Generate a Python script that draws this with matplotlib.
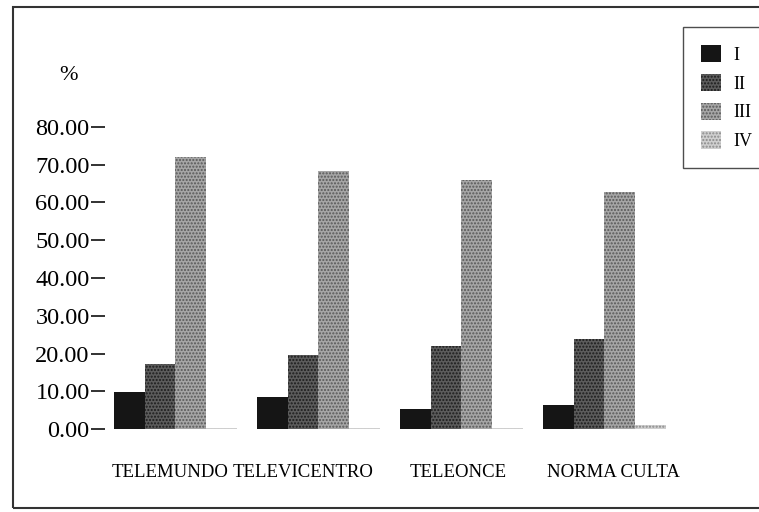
import numpy as np
import matplotlib
matplotlib.use('Agg')
import matplotlib.pyplot as plt
import matplotlib.transforms as mtransforms
from matplotlib.patches import Rectangle

''' data read off the chart '''
canales = ['TELEMUNDO', 'TELEVICENTRO', 'TELEONCE', 'NORMA CULTA']
series = ['I', 'II', 'III', 'IV']
val_I = [9.8, 8.5, 5.3, 6.4]
val_II = [17.2, 19.5, 22.0, 23.8]
val_III = [72.0, 68.3, 66.0, 62.8]
val_IV = [0.3, 0.2, 0.2, 1.0]
y_ticks = [0, 10, 20, 30, 40, 50, 60, 70, 80]

''' styles (halftone look) '''
face = ['#151515', '#5c5c5c', '#a6a6a6', '#cfcfcf']
hatch_col = ['#151515', '#1c1c1c', '#585858', '#8a8a8a']
hatches = [None, '.....', '.....', '.....']
label_shift_px = [-5, -15, -3, 9]  # x labels are not exactly centred in the original

plt.rcParams['font.family'] = ['Liberation Serif', 'DejaVu Serif']
plt.rcParams['hatch.linewidth'] = 1.0

fig = plt.figure(figsize=(7.59, 5.12), dpi=100)
ax = fig.add_axes([0.1383, 0.162, 0.784, 0.590])

x = np.arange(len(canales))
w = 0.215
for j, vals in enumerate([val_I, val_II, val_III, val_IV]):
    ax.bar(x + (j - 1.5) * w, vals, width=w, color=face[j], edgecolor=hatch_col[j],
           hatch=hatches[j], linewidth=0, label=series[j])

ax.set_xlim(-0.493, 3.668)
ax.set_ylim(0, 80)
ax.set_yticks(y_ticks)
ax.set_yticklabels(['%.2f' % v for v in y_ticks], fontsize=17.5)
ax.tick_params(axis='y', length=10, width=1.3, pad=1, color='#222222')
ax.set_xticks(x)
ax.set_xticklabels(canales, fontsize=13.5)
ax.tick_params(axis='x', length=0, pad=25)
for lab, dx in zip(ax.get_xticklabels(), label_shift_px):
    lab.set_transform(lab.get_transform() + mtransforms.ScaledTranslation(dx / 100, 0, fig.dpi_scale_trans))
for s in ax.spines.values():
    s.set_visible(False)

fig.text(68 / 759, 1 - 75 / 512, '%', fontsize=16, ha='center', va='center')

leg = fig.legend(loc='upper left', bbox_to_anchor=(683 / 759, 1 - 27 / 512), fontsize=13,
                 handlelength=1.1, handleheight=1.1, handletextpad=0.7, labelspacing=0.55,
                 borderpad=1.0, borderaxespad=0, fancybox=False, frameon=True)
leg.get_frame().set_edgecolor('#222222')
leg.get_frame().set_linewidth(1.0)

# outer frame of the picture
fig.add_artist(Rectangle((13 / 759, 1 - 508 / 512), 0.99, (508 - 7) / 512,
                         transform=fig.transFigure, fill=False, edgecolor='#333333', linewidth=1.5))

fig.savefig('out.png', dpi=100)
